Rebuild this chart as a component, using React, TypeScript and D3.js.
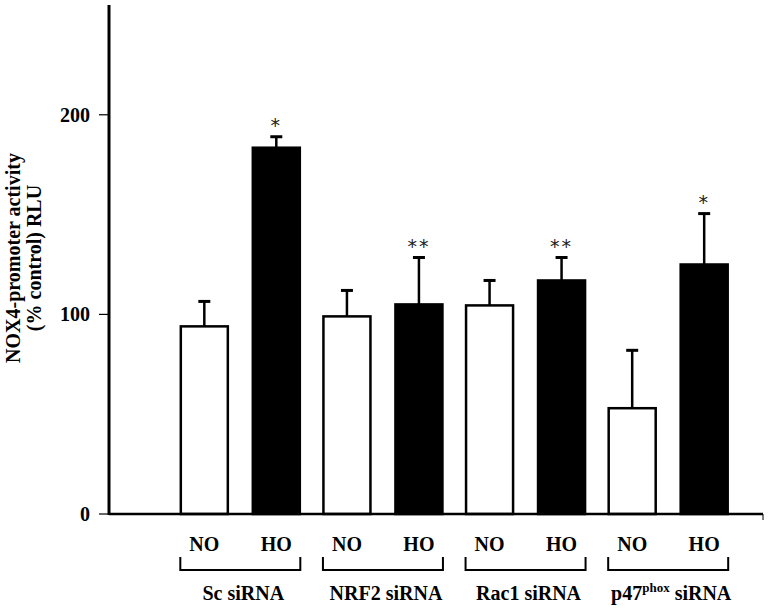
import React from 'react';
import * as d3 from 'd3';

const groups = ['Sc siRNA', 'NRF2 siRNA', 'Rac1 siRNA', 'p47phox siRNA'];
const conditions = ['NO', 'HO'];
const noValues = [94, 99, 104.5, 53];
const hoValues = [183.5, 105, 117, 125];
const noErrors = [12.5, 13, 12.5, 29];
const hoErrors = [5.5, 23.5, 11.5, 25.5];
const noMarks = ['', '', '', ''];
const hoMarks = ['*', '**', '**', '*'];
const yTicks = [0, 100, 200];
const yLabel = ['NOX4-promoter activity', '(% control) RLU'];

const W = 771;
const H = 612;
const FONT = '"Liberation Serif", "Times New Roman", serif';

export default function App() {
  const axisX = 109;
  const axisRight = 763;
  const y = d3.scaleLinear().domain([0, 255]).range([514, 5]);
  const outer = d3.scaleBand<string>().domain(groups).range([169, 739.5]).padding(0);
  const inner = d3
    .scaleBand<string>()
    .domain(conditions)
    .range([0, outer.bandwidth()])
    .paddingInner(0.347)
    .paddingOuter(0.164);

  const rows = groups.flatMap((g, i) => [
    { g, c: 'NO', v: noValues[i], e: noErrors[i], m: noMarks[i] },
    { g, c: 'HO', v: hoValues[i], e: hoErrors[i], m: hoMarks[i] },
  ]);

  const barX = (g: string, c: string) => (outer(g) as number) + (inner(c) as number);
  const bw = inner.bandwidth();
  const y0 = y(0);

  const renderGroupLabel = (g: string) => {
    if (g.startsWith('p47phox')) {
      return (
        <>
          p47
          <tspan fontSize={13} dy={-8}>phox</tspan>
          <tspan dy={8}> siRNA</tspan>
        </>
      );
    }
    return g;
  };

  return (
    <svg
      width={W}
      height={H}
      style={{ position: 'absolute', left: 0, top: 0, background: '#fff' }}
      fontFamily={FONT}
    >
      <rect x={0} y={0} width={W} height={H} fill="#fff" />
      {/* bars */}
      {rows.map((r, i) => {
        const x = barX(r.g, r.c);
        const top = y(r.v);
        const isHO = r.c === 'HO';
        return (
          <g key={i}>
            <rect
              x={x}
              y={top}
              width={bw}
              height={y0 - top}
              fill={isHO ? '#000' : '#fff'}
              stroke="#000"
              strokeWidth={2.5}
            />
            <line
              x1={x + bw / 2}
              x2={x + bw / 2}
              y1={top}
              y2={y(r.v + r.e)}
              stroke="#000"
              strokeWidth={2.5}
            />
            <line
              x1={x + bw / 2 - 6}
              x2={x + bw / 2 + 6}
              y1={y(r.v + r.e)}
              y2={y(r.v + r.e)}
              stroke="#000"
              strokeWidth={3}
            />
            {r.m && (
              <text
                x={x + bw / 2}
                y={y(r.v + r.e) - 5}
                textAnchor="middle"
                fontSize={19}
                fontFamily='"DejaVu Sans", sans-serif'
                letterSpacing={2}
                fill="#222"
              >
                {r.m}
              </text>
            )}
            <text
              x={x + bw / 2}
              y={551}
              textAnchor="middle"
              fontSize={20}
              fontWeight="bold"
            >
              {r.c}
            </text>
          </g>
        );
      })}
      {/* axes */}
      <line x1={axisX} x2={axisX} y1={y.range()[1]} y2={y0 + 1} stroke="#000" strokeWidth={3} />
      <line x1={axisX} x2={axisRight} y1={y0} y2={y0} stroke="#000" strokeWidth={2.5} />
      <line x1={axisRight} x2={axisRight} y1={y0} y2={y0 + 6} stroke="#000" strokeWidth={1} />
      {yTicks.map((t) => (
        <g key={t}>
          <line x1={axisX - 10} x2={axisX} y1={y(t)} y2={y(t)} stroke="#000" strokeWidth={1.2} />
          <text
            x={axisX - 19}
            y={y(t)}
            dy="0.35em"
            textAnchor="end"
            fontSize={20}
            fontWeight="bold"
          >
            {t}
          </text>
        </g>
      ))}
      {/* y label */}
      {yLabel.map((l, i) => (
        <text
          key={i}
          transform={`translate(${20 + i * 21}, 258) rotate(-90)`}
          textAnchor="middle"
          fontSize={20}
          fontWeight="bold"
        >
          {l}
        </text>
      ))}
      {/* brackets */}
      {groups.map((g) => {
        const cx = (outer(g) as number) + outer.bandwidth() / 2;
        const half = 60;
        return (
          <g key={g}>
            <path
              d={`M${cx - half},557 V570 H${cx + half} V557`}
              fill="none"
              stroke="#000"
              strokeWidth={2}
            />
            <text x={cx + 3} y={600} textAnchor="middle" fontSize={20} fontWeight="bold">
              {renderGroupLabel(g)}
            </text>
          </g>
        );
      })}
    </svg>
  );
}
